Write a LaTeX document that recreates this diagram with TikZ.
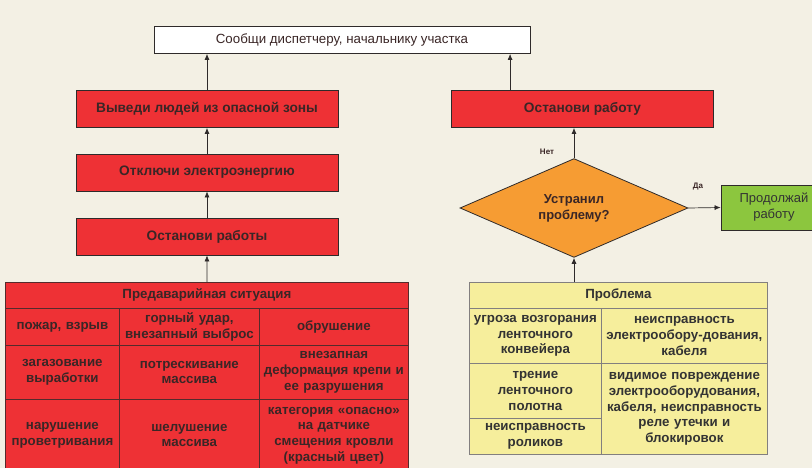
\documentclass[tikz,border=0pt]{standalone}
\usepackage{fontspec}
\setmainfont{Liberation Sans}
\usetikzlibrary{shapes.geometric,arrows.meta}

\definecolor{bgcol}{HTML}{F3F0E4}
\definecolor{boxred}{HTML}{EE3135}
\definecolor{boxyellow}{HTML}{F6EE9C}
\definecolor{boxorange}{HTML}{F69C33}
\definecolor{boxgreen}{HTML}{8CC63E}
\definecolor{linecol}{HTML}{2E2A2A}
\definecolor{txtdark}{HTML}{3A2626}

\tikzset{
  stepbox/.style={draw=linecol, line width=0.8pt, fill=boxred, text=txtdark,
    minimum width=262pt, minimum height=37pt, inner sep=0pt,
    font=\bfseries\fontsize{13.7}{16}\selectfont},
  cell/.style={draw=linecol!80!boxred, line width=0.8pt, fill=boxred, text=txtdark,
    anchor=north west, inner sep=0pt, align=center,
    font=\bfseries\fontsize{13.3}{15.7}\selectfont},
  ycell/.style={cell, draw=linecol!60, fill=boxyellow, text=black!80},
  arr/.style={draw=linecol, line width=0.7pt, -{Latex[length=6pt,width=5pt]}},
  lbl/.style={font=\bfseries\fontsize{8}{9}\selectfont, text=txtdark}
}

\begin{document}
\begin{tikzpicture}[x=1pt,y=-1pt]
  \useasboundingbox[fill=bgcol] (0,0) rectangle (812,468);
  \clip (0,0) rectangle (812,468);

  % left column of actions
  \node[stepbox, fill=white, minimum width=376pt, minimum height=27pt,
    font=\fontsize{13.3}{15}\selectfont] (report) at (342,40) {Сообщи диспетчеру, начальнику участка};
  \node[stepbox] (evac) at (207,109) {Выведи людей из опасной зоны};
  \node[stepbox] (power) at (207,172.5) {Отключи электроэнергию};
  \node[stepbox] (stopw) at (207,236.5) {Останови работы};

  % right column
  \node[stepbox] (rstop) at (582.5,109) {Останови работу};
  \node[diamond, draw=linecol, line width=0.8pt, fill=boxorange, inner sep=0pt,
    minimum width=228pt, minimum height=72pt, align=center, text=txtdark,
    font=\bfseries\fontsize{13}{16}\selectfont] (fix) at (574,208) {Устранил\\проблему?};
  \node[stepbox, fill=boxgreen, minimum width=106pt, minimum height=45pt, align=center,
    font=\fontsize{13}{16}\selectfont, text=black!80] (go) at (774,207.5) {Продолжай\\работу};

  % table of pre-accident situations
  \node[cell, minimum width=403pt, minimum height=26pt] (lhead) at (5,282) {Предаварийная ситуация};
  \node[cell, minimum width=114pt, minimum height=37pt, text width=112pt] (l11) at (5,308) {пожар, взрыв};
  \node[cell, minimum width=140pt, minimum height=37pt, text width=138pt] (l12) at (119,308) {горный удар,\\внезапный выброс};
  \node[cell, minimum width=149pt, minimum height=37pt, text width=147pt] (l13) at (259,308) {обрушение};
  \node[cell, minimum width=114pt, minimum height=54pt, text width=112pt] (l21) at (5,345) {загазование\\выработки};
  \node[cell, minimum width=140pt, minimum height=54pt, text width=138pt] (l22) at (119,345) {потрескивание\\массива};
  \node[cell, minimum width=149pt, minimum height=54pt, text width=149pt] (l23) at (259,345) {внезапная\\деформация крепи и\\ее разрушения};
  \node[cell, minimum width=114pt, minimum height=72pt, text width=114pt] (l31) at (5,399) {нарушение\\проветривания};
  \node[cell, minimum width=140pt, minimum height=72pt, text width=138pt] (l32) at (119,399) {шелушение\\массива};
  \node[cell, minimum width=149pt, minimum height=72pt, text width=149pt] (l33) at (259,399) {категория «опасно»\\на датчике\\смещения кровли\\(красный цвет)};

  % table of problems
  \node[ycell, minimum width=298pt, minimum height=26pt] (rhead) at (469,282) {Проблема};
  \node[ycell, minimum width=132pt, minimum height=55pt, text width=132pt] (r11) at (469,308) {угроза возгорания\\ленточного\\конвейера};
  \node[ycell, minimum width=166pt, minimum height=55pt, text width=166pt] (r12) at (601,308) {неисправность\\электрообору-дования,\\кабеля};
  \node[ycell, minimum width=132pt, minimum height=55pt, text width=132pt] (r21) at (469,363) {трение\\ленточного\\полотна};
  \node[ycell, minimum width=132pt, minimum height=36pt, text width=132pt] (r31) at (469,418) {неисправность\\роликов};
  \node[ycell, minimum width=166pt, minimum height=91pt, text width=166pt] (r22) at (601,363) {видимое повреждение\\электрооборудования,\\кабеля, неисправность\\реле утечки и\\блокировок};

  % connectors
  \draw[arr] (lhead.north) -- (stopw.south);
  \draw[arr] (stopw) -- (power);
  \draw[arr] (power) -- (evac);
  \draw[arr] (evac.north) -- (evac.north |- report.south);
  \draw[arr] ([xshift=59pt]rstop.north west) -- ([xshift=59pt]rstop.north west |- report.south);
  \draw[arr] (fix.north) -- (fix.north |- rstop.south);
  \draw[arr] (fix.south |- rhead.north) -- (fix.south);
  \draw[arr] (fix.east) -- (go.west);

  \node[lbl] (no) at (547,152) {Нет};
  \node[lbl] (yes) at (698,187) {Да};
\end{tikzpicture}
\end{document}
